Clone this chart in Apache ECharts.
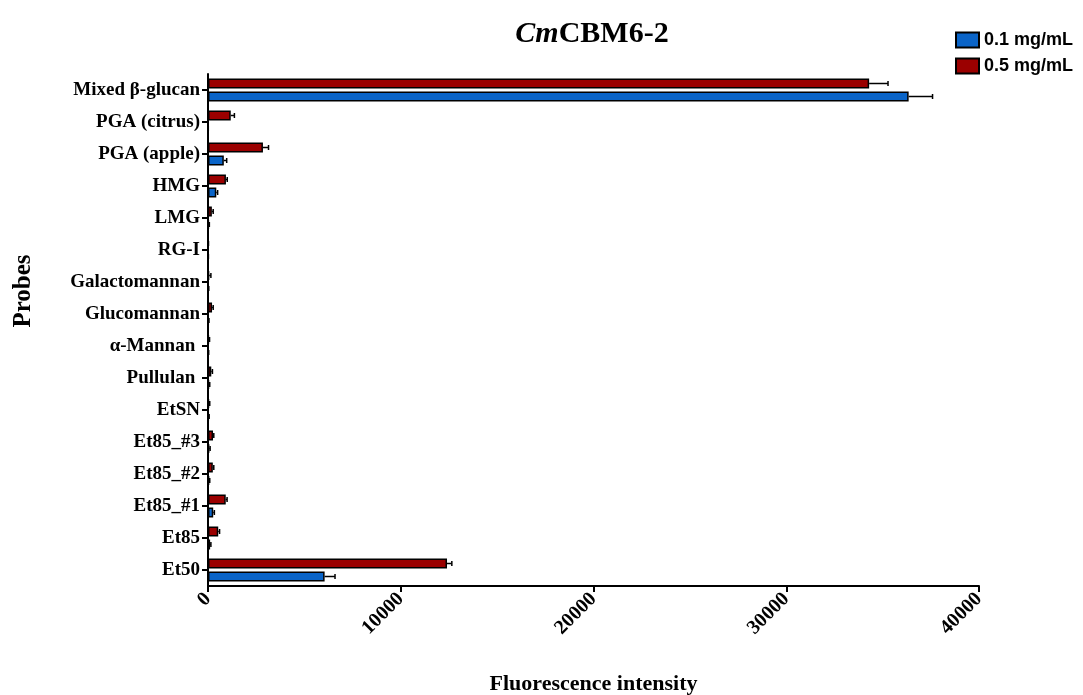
<!DOCTYPE html>
<html>
<head>
<meta charset="utf-8">
<title>CmCBM6-2 binding</title>
<script src="https://cdn.jsdelivr.net/npm/echarts@6/dist/echarts.min.js"></script>
<style>
  html, body { margin: 0; padding: 0; background: #fff; }
  #chart { width: 1083px; height: 695px; }
</style>
</head>
<body>
<div id="chart"></div>
<script>
// Probes, listed top to bottom
const probes = [
  'Mixed β-glucan', 'PGA (citrus)', 'PGA (apple)', 'HMG', 'LMG', 'RG-I',
  'Galactomannan', 'Glucomannan', 'α-Mannan ', 'Pullulan ', 'EtSN',
  'Et85_#3', 'Et85_#2', 'Et85_#1', 'Et85', 'Et50'
];

// Mean fluorescence intensity and error (SD) per probe
const low = [36350, 15, 820, 430, 40, 10, 20, 30, 20, 50, 30, 70, 60, 270, 110, 6050];
const lowErr = [1240, 0, 150, 70, 30, 10, 20, 20, 15, 40, 30, 40, 30, 60, 40, 540];
const high = [34300, 1180, 2850, 930, 200, 15, 60, 210, 40, 170, 50, 260, 250, 920, 530, 12400];
const highErr = [980, 190, 290, 70, 70, 10, 90, 60, 40, 60, 40, 40, 50, 70, 70, 250];

const seriesNames = ['0.1 mg/mL', '0.5 mg/mL'];
const xTicks = { min: 0, max: 40000, interval: 10000 };

const SERIF = '"Liberation Serif", "Times New Roman", serif';
const SANS = '"Liberation Sans", Arial, sans-serif';
const BAR_W = 10;
const BAR_GAP = 3;

const chart = echarts.init(document.getElementById('chart'));

// Positive-only error whisker with a short cap, shifted to its bar's slot
function errorSeries(name, vals, errs, shift) {
  return {
    type: 'custom',
    name: name,
    z: 3,
    silent: true,
    encode: { x: 0, y: 2 },
    data: vals.map((v, i) => [v, errs[i], i]),
    renderItem: function (params, api) {
      const v = api.value(0), e = api.value(1), idx = api.value(2);
      const p0 = api.coord([v, idx]);
      const p1 = api.coord([v + e, idx]);
      const y = p0[1] + shift * (BAR_W + BAR_GAP) / 2;
      const cap = 2.5;
      return {
        type: 'group',
        children: [
          { type: 'line', shape: { x1: p0[0], y1: y, x2: p1[0], y2: y },
            style: { stroke: '#000', lineWidth: 1.5 } },
          { type: 'line', shape: { x1: p1[0], y1: y - cap, x2: p1[0], y2: y + cap },
            style: { stroke: '#000', lineWidth: 1.5 } }
        ]
      };
    }
  };
}

const barStyle = (color) => ({ color: color, borderColor: '#000', borderWidth: 1.5 });

chart.setOption({
  animation: false,
  backgroundColor: '#fff',
  grid: { left: 208, right: 104, top: 74, bottom: 109, outerBoundsMode: 'none' },
  legend: {
    orient: 'vertical',
    left: 950, top: 26,
    icon: 'rect',
    itemWidth: 23, itemHeight: 15, itemGap: 8,
    data: seriesNames,
    textStyle: { fontFamily: SANS, fontWeight: 'bold', fontSize: 18, color: '#000' }
  },
  graphic: [
    {
      type: 'text', x: 592, y: 34,
      style: {
        text: '{i|Cm}{b|CBM6-2}',
        align: 'center', verticalAlign: 'middle',
        rich: {
          i: { fontFamily: SERIF, fontWeight: 'bold', fontStyle: 'italic', fontSize: 30, fill: '#000' },
          b: { fontFamily: SERIF, fontWeight: 'bold', fontSize: 30, fill: '#000' }
        }
      }
    },
    {
      type: 'text', x: 24, y: 291, rotation: Math.PI / 2,
      style: {
        text: 'Probes', align: 'center', verticalAlign: 'middle',
        fontFamily: SERIF, fontWeight: 'bold', fontSize: 25, fill: '#000'
      }
    }
  ],
  xAxis: {
    type: 'value',
    min: xTicks.min, max: xTicks.max, interval: xTicks.interval,
    name: 'Fluorescence intensity',
    nameLocation: 'middle', nameGap: 87,
    nameTextStyle: { fontFamily: SERIF, fontWeight: 'bold', fontSize: 22, color: '#000' },
    axisLine: { show: true, lineStyle: { color: '#000', width: 2 } },
    axisTick: { show: true, length: 6, lineStyle: { color: '#000', width: 2 } },
    splitLine: { show: false },
    axisLabel: {
      rotate: 45, margin: 10,
      formatter: (v) => String(v),
      fontFamily: SERIF, fontWeight: 'bold', fontSize: 20, color: '#000'
    }
  },
  yAxis: {
    type: 'category',
    inverse: true,
    data: probes,
    axisLine: { show: true, lineStyle: { color: '#000', width: 2 } },
    axisTick: { show: true, alignWithLabel: true, length: 6, lineStyle: { color: '#000', width: 2 } },
    axisLabel: {
      margin: 8, padding: [4, 0, 0, 0],
      fontFamily: SERIF, fontWeight: 'bold', fontSize: 19, color: '#000'
    }
  },
  series: [
    {
      type: 'bar', name: seriesNames[1], data: high,
      barWidth: BAR_W, barGap: '30%',
      itemStyle: barStyle('#9b0000')
    },
    {
      type: 'bar', name: seriesNames[0], data: low,
      barWidth: BAR_W, barGap: '30%',
      itemStyle: barStyle('#0a64c8')
    },
    errorSeries(seriesNames[1], high, highErr, -1),
    errorSeries(seriesNames[0], low, lowErr, 1)
  ]
});
</script>
</body>
</html>
